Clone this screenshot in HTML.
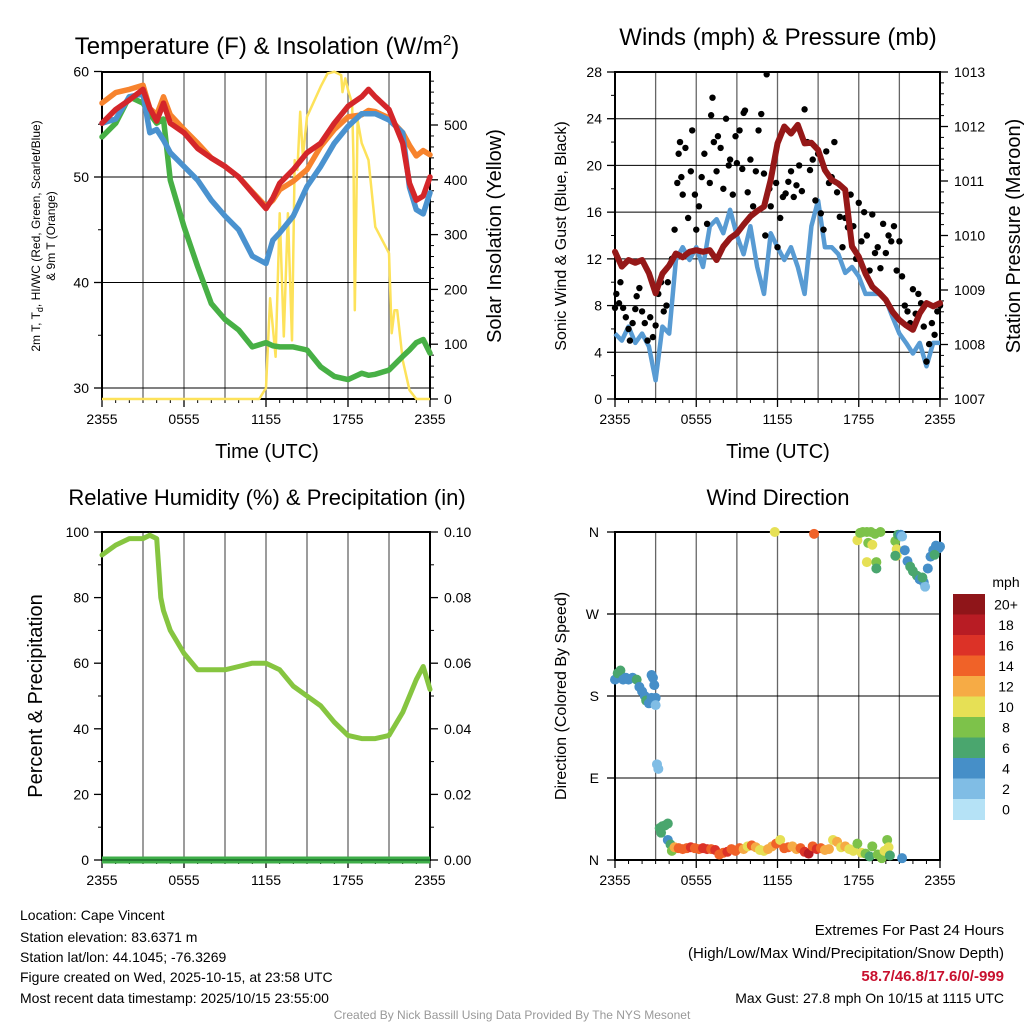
<!DOCTYPE html>
<html><head><meta charset="utf-8"><style>
html,body{margin:0;padding:0;background:#fff;width:1024px;height:1024px;overflow:hidden}
svg{display:block;font-family:"Liberation Sans",sans-serif}
</style></head><body>
<svg id="c" width="1024" height="1024" viewBox="0 0 1024 1024"></svg>
<script>
// ---------- DATA ----------
const tempHours=[0,1,2,3,3.5,4,4.5,5,6,7,8,9,10,11,12,12.5,13,14,15,16,17,18,19,19.5,20,21,22,22.5,23,23.5,24];
const temp2m=[55.1,56.4,57.3,58.3,56.5,55.3,57,55.1,54.2,52.7,51.8,51,50,48.5,47,48,49.4,50.7,52.3,53.2,55.1,56.7,57.6,58.3,57.6,56.4,53.2,49.4,47.8,48.2,50];
const temp9m=[57,58,58.3,58.7,56.5,55.9,57.6,55.9,54.5,53.2,51.8,51,50,48.6,47.2,47.8,48.8,49.6,50.7,52.9,54.5,55.7,55.9,56.3,56.2,55.6,54.2,53,52,52.5,52.1];
const windChill=[55.1,55.5,57.6,57.9,54.2,54.5,53.5,52.3,51,49.7,47.8,46.3,45,42.5,41.8,44,44.7,46.3,49.1,51,53.2,54.8,56,56,56,55.4,54.2,49,46.9,46.5,48.5];
const dewPoint=[53.8,55.1,57.6,57,56,55.1,55.5,49.7,45.3,41.5,38,36.5,35.5,33.9,34.3,34,33.9,33.9,33.6,32,31.1,30.8,31.4,31.2,31.3,31.7,33,33.6,34.3,34.6,33.3];
const solarHours=[0,11.5,12,12.3,12.7,13,13.3,13.6,13.9,14.1,14.3,14.5,14.7,15,16,16.5,17,17.5,17.6,17.8,18,18.3,18.4,18.5,18.7,19,19.5,20,21,21.2,21.4,21.6,22,22.5,23,24];
const solarValues=[0,0,20,184,77,339,114,339,107,436,418,524,442,515,570,594,597,591,560,585,564,540,436,162,509,467,436,314,266,120,162,162,71,16,0,0];
const windSpeed=[5.6,5,6.2,4.8,5.6,4.5,1.6,6.2,5.6,11.9,13,11.9,13,11.3,14.8,15.4,14.2,16.2,14,12.4,14.8,11.3,9,14.2,13,11.9,13,11.3,9,14.8,17,13,13,12.4,10.8,11.3,10.5,9,9,9,8.5,7,5.6,4.8,3.9,4.8,2.8,4.8,4.8];
const pressure=[1009.7,1009.43,1009.55,1009.5,1009.55,1009.31,1008.94,1009.3,1009.45,1009.67,1009.6,1009.7,1009.73,1009.7,1009.73,1009.55,1009.8,1009.95,1010.04,1010.2,1010.35,1010.45,1010.53,1011.02,1011.69,1012.0,1011.87,1012.03,1011.69,1011.7,1011.57,1011.2,1011.02,1010.95,1010.84,1009.8,1009.61,1009.3,1009.06,1008.95,1008.82,1008.6,1008.45,1008.35,1008.27,1008.57,1008.76,1008.7,1008.76];
const gustHours=[0,0.1,0.3,0.4,0.6,0.8,1,1.1,1.3,1.5,1.6,1.8,2,2.2,2.4,2.6,2.8,3,3.2,3.4,3.6,3.8,3.9,4.2,4.4,4.6,4.7,4.8,4.9,5,5.2,5.4,5.6,5.7,5.9,6,6.2,6.4,6.6,6.8,7,7.1,7.2,7.3,7.5,7.6,7.8,8,8.2,8.4,8.5,8.7,8.9,9,9.2,9.4,9.5,9.6,9.8,10,10.2,10.4,10.6,10.8,11,11.1,11.2,11.4,11.5,11.7,11.9,12,12.2,12.4,12.6,12.8,13,13.2,13.4,13.6,13.8,14,14.2,14.4,14.6,14.8,15,15.2,15.4,15.6,15.8,16,16.2,16.4,16.6,16.8,17,17.2,17.4,17.6,17.8,18,18.2,18.4,18.6,18.8,19,19.2,19.4,19.6,19.8,20,20.2,20.4,20.6,20.8,21,21.2,21.4,21.6,21.8,22,22.2,22.4,22.6,22.8,23,23.2,23.4,23.6,23.8,24];
const gustValues=[7.8,9,8.2,10,7.8,7,6,5,6.5,7.7,8.8,9.5,7.5,6.5,5,7,5.3,6.3,9,10,7.5,8,10,12,14.5,18.5,21,22,19,17.5,21.5,15.5,19.5,23,17.5,14.5,16.5,19,21,15,18.5,24.3,25.8,22,19.5,22.5,21.5,18,24,20,20.5,17.5,22.5,20.2,23,19.7,24.5,24.7,17.7,20.5,16.5,19.5,23,24.4,19.3,14,27.8,18,16.5,20,18.5,13,15.5,17.3,17.6,18.6,19.5,17.3,18.3,20,17.8,24.8,22,19.6,20.5,17,21,15.9,14.5,21.2,18.5,19,22,17.7,15.6,13,15.5,14.7,17.5,14.8,12,16.8,13.5,16,14,11,15.8,12.5,13,11.2,15,12.5,14,13.5,14.8,11,13.5,10.5,8,7.5,6.5,9.4,7.3,9,8.2,6.2,3.2,4.7,6.5,5.5,7.5,8];
const rhValues=[93,96,98,98,99,98,80,76,70,63,58,58,58,59,60,60,58,53,50,47,42,38,37,37,38,45,55,59,52];
const rhHours=[0,1,2,3,3.5,4,4.3,4.5,5,6,7,8,9,10,11,12,13,14,15,16,17,18,19,20,21,22,23,23.5,24];
const precipValues=[0,0,0,0,0,0,0,0,0,0,0,0,0,0,0,0,0,0,0,0,0,0,0,0,0];
const dirHoursSouth=[0,0.2,0.4,0.6,0.8,1,1.3,1.6,1.8,2,2.2,2.3,2.5,2.7,2.7,2.8,2.9,3,3,3.1,3.2,3.3,3.5,3.7,3.9,3.4,3.9,4.1,4.2];
const dirDegreesSouth=[198,205,208,198,200,198,200,198,190,185,180,175,172,178,203,200,192,178,170,105,100,35,37,38,40,30,22,17,10];
const dirSpeedsSouth=[4,6,6,4,4,4,4,6,4,4,4,6,4,4,4,4,4,4,3,3,3,6,6,6,6,6,4,6,8];
const dirHoursLow=[4.4,4.7,5,5.3,5.6,5.9,6.2,6.5,6.8,7.1,7.4,7.7,8,8.3,8.6,8.9,9.2,9.5,9.8,10.1,10.4,10.7,11,11.3,11.6,11.9,12.2,12.5,12.8,13.1,13.4,13.7,14,14.3,14.6,14.9,15.2,15.5,15.8,16.1,16.4,16.7,17,17.3,17.6,17.9,18.2,18.5,18.8,19,19.4,19.7,19.9,20.1,20.2,20.3,21.2];
const dirDegreesLow=[14,13,12,13,14,13,12,13,12,12,11,6,8,9,12,10,13,12,15,16,14,11,10,12,15,18,22,13,14,15,12,13,9,7,15,12,13,11,12,22,20,14,15,12,10,18,8,7,4,15,6,2,10,22,14,5,2];
const dirSpeedsLow=[12,14,14,14,16,14,14,16,16,14,16,14,14,16,14,14,14,12,10,14,12,10,10,12,12,14,10,14,14,12,12,14,16,18,14,16,14,12,12,10,12,10,12,10,10,8,10,8,6,8,8,8,10,8,10,6,4];
const dirHoursNorth=[11.8,14.7,17.9,18.1,18.3,18.6,18.9,19.2,19.6,18.6,18.7,19,19.3,19.3,20.7,20.8,20.8,20.7,20.9,21.1,21.2,21.4,21.6,21.8,22,22.3,22.5,22.8,22.9,22.7,23.1,23.3,23.5,23.7,23.9,23.6,24];
const dirDegreesNorth=[360,358,351,359,360,360,360,358,360,327,348,346,327,320,350,341,334,334,357,357,355,340,328,322,317,312,308,305,300,310,320,333,340,345,342,335,344];
const dirSpeedsNorth=[10,14,10,8,8,8,8,8,8,10,8,10,8,6,8,10,10,6,6,4,2,4,4,6,6,6,4,4,2,6,4,4,4,4,4,6,4];
const speedColors=['#b5e2f6','#80bde5','#468fc8','#4aa66e','#7dc24a','#e6e055','#f6ab45','#f06228','#dc3227','#b81c24','#8f1519'];
const speedLabels=['0','2','4','6','8','10','12','14','16','18','20+'];
const tempTicks=[30,40,50,60];
const solarTicks=[0,100,200,300,400,500];
const windTicks=[0,4,8,12,16,20,24,28];
const pressTicks=[1007,1008,1009,1010,1011,1012,1013];
const rhTicks=[0,20,40,60,80,100];
const precipTicks=['0.00','0.02','0.04','0.06','0.08','0.10'];
const dirTicks=['N','E','S','W','N'];
const timeLabels=['2355','0555','1155','1755','2355'];

const dirHours=dirHoursSouth.concat(dirHoursLow,dirHoursNorth);
const dirDegrees=dirDegreesSouth.concat(dirDegreesLow,dirDegreesNorth);
const dirSpeeds=dirSpeedsSouth.concat(dirSpeedsLow,dirSpeedsNorth);

// ---------- HELPERS ----------
const NS='http://www.w3.org/2000/svg';
const svg=document.getElementById('c');
function mk(tag,attrs,parent){const e=document.createElementNS(NS,tag);for(const k in attrs)e.setAttribute(k,attrs[k]);(parent||svg).appendChild(e);return e;}
function txt(s,x,y,size,anchor,parent,extra){const t=mk('text',Object.assign({x:x,y:y,'font-size':size,'text-anchor':anchor||'middle',fill:'#000'},extra||{}),parent);t.textContent=s;return t;}
function line(x1,y1,x2,y2,stroke,w,parent){return mk('line',{x1:x1,y1:y1,x2:x2,y2:y2,stroke:stroke,'stroke-width':w},parent);}
function pathFrom(xs,ys,fx,fy){let d='';for(let i=0;i<xs.length;i++)d+=(i?'L':'M')+fx(xs[i]).toFixed(1)+','+fy(ys[i]).toFixed(1);return d;}

const L={x0:102,x1:430}, R={x0:615,x1:940};
const T={y0:72,y1:399}, B={y0:532,y1:860};
function xL(h){return L.x0+h*(L.x1-L.x0)/24;}
function xR(h){return R.x0+h*(R.x1-R.x0)/24;}
function yT(v){return 388-(v-30)*10.55;}
function yS(v){return 399-v*0.548;}
function yW(v){return 399-v*(327/28);}
function yP(p){return 399-(p-1007)*54.5;}
function yRH(v){return 860-v*3.28;}
function yPr(v){return 860-v*3280;}
function yD(d){return 860-d*(328/360);}

function frame(g,X,Y,fx,hgrid){
  for(let h=3;h<24;h+=3){line(fx(h),Y.y0,fx(h),Y.y1,'#666',1.3,g);}
  hgrid.forEach(y=>line(X.x0,y,X.x1,y,'#000',1,g));
  mk('rect',{x:X.x0,y:Y.y0,width:X.x1-X.x0,height:Y.y1-Y.y0,fill:'none',stroke:'#000','stroke-width':2},g);
  for(let i=0;i<timeLabels.length;i++){const x=fx(i*6);line(x,Y.y1,x,Y.y1+8,'#000',1.3,g);const t=txt(timeLabels[i],x,Y.y1+25,14,'middle',g);}
  for(let h=1;h<24;h++){if(h%6)line(fx(h),Y.y1,fx(h),Y.y1+4,'#000',1,g);}
}

// ---------- PANEL 1 ----------
const g1=mk('g',{});
frame(g1,L,T,xL,tempTicks.map(yT));
tempTicks.forEach(v=>{line(L.x0-8,yT(v),L.x0,yT(v),'#000',1.3,g1);txt(String(v),L.x0-13,yT(v)+5,14,'end',g1);});
[35,45,55].forEach(v=>line(L.x0-4,yT(v),L.x0,yT(v),'#000',1,g1));
solarTicks.forEach(v=>{line(L.x1,yS(v),L.x1+8,yS(v),'#000',1.3,g1);txt(String(v),L.x1+14,yS(v)+5,14,'start',g1);});
for(let v=20;v<=580;v+=20){if(v%100)line(L.x1,yS(v),L.x1+4,yS(v),'#000',1,g1);}
const sol=mk('path',{d:pathFrom(solarHours,solarValues,xL,yS),fill:'none',stroke:'#fde25a','stroke-width':2.5,'stroke-linejoin':'round'},g1);

const tl=[[dewPoint,'#47b045','dewpoint-line'],[temp9m,'#f7832d','temp-9m-line'],[windChill,'#4a92cf','wind-chill-line'],[temp2m,'#d4262a','temp-2m-line']];
tl.forEach(s=>{const p=mk('path',{d:pathFrom(tempHours,s[0],xL,yT),fill:'none',stroke:s[1],'stroke-width':5.5,'stroke-linejoin':'round','stroke-linecap':'round'},g1);});
const t1=txt('',267,54,24,'middle',g1);t1.innerHTML='Temperature (F) &amp; Insolation (W/m<tspan dy="-9" font-size="15">2</tspan><tspan dy="9">)</tspan>';

const xl1=txt('Time (UTC)',267,458,20,'middle',g1);
const yl1=mk('text',{transform:'translate(40,236) rotate(-90)','font-size':12,'text-anchor':'middle'},g1);
yl1.innerHTML='2m T, T<tspan dy="3" font-size="9">d</tspan><tspan dy="-3">, HI/WC (Red, Green, Scarlet/Blue)</tspan>';

txt('& 9m T (Orange)',0,0,12,'middle',g1,{transform:'translate(55,236) rotate(-90)'});
const yr1=txt('Solar Insolation (Yellow)',0,0,20,'middle',g1,{transform:'translate(501,236) rotate(-90)'});


// ---------- PANEL 2 ----------
const g2=mk('g',{});
frame(g2,R,T,xR,windTicks.slice(1,7).map(yW));
windTicks.forEach(v=>{line(R.x0-8,yW(v),R.x0,yW(v),'#000',1.3,g2);txt(String(v),R.x0-13,yW(v)+5,14,'end',g2);});
for(let v=2;v<28;v+=4)line(R.x0-4,yW(v),R.x0,yW(v),'#000',1,g2);
pressTicks.forEach(v=>{line(R.x1,yP(v),R.x1+8,yP(v),'#000',1.3,g2);txt(String(v),R.x1+14,yP(v)+5,14,'start',g2);});
for(let v=1007.2;v<1013;v+=0.2){line(R.x1,yP(v),R.x1+4,yP(v),'#000',1,g2);}
const halfHours=windSpeed.map((_,i)=>i*0.5);
const ws=mk('path',{d:pathFrom(halfHours,windSpeed,xR,yW),fill:'none',stroke:'#589bd3','stroke-width':4.5,'stroke-linejoin':'round'},g2);

for(let i=0;i<gustHours.length;i++){const c=mk('circle',{cx:xR(gustHours[i]),cy:yW(gustValues[i]),r:3.2,fill:'#000'},g2);

}
const pr=mk('path',{d:pathFrom(halfHours,pressure,xR,yP),fill:'none',stroke:'#951818','stroke-width':6,'stroke-linejoin':'round','stroke-linecap':'round'},g2);

const t2=txt('Winds (mph) & Pressure (mb)',778,45,24,'middle',g2);
const xl2=txt('Time (UTC)',778,458,20,'middle',g2);
const yl2=txt('Sonic Wind & Gust (Blue, Black)',0,0,16,'middle',g2,{transform:'translate(566,236) rotate(-90)'});

const yr2=txt('Station Pressure (Maroon)',0,0,20,'middle',g2,{transform:'translate(1020,236) rotate(-90)'});


// ---------- PANEL 3 ----------
const g3=mk('g',{});
frame(g3,L,B,xL,[]);
rhTicks.forEach((v,i)=>{line(L.x0-8,yRH(v),L.x0,yRH(v),'#000',1.3,g3);txt(String(v),L.x0-13,yRH(v)+5,14,'end',g3);
  line(L.x1,yRH(v),L.x1+8,yRH(v),'#000',1.3,g3);txt(precipTicks[i],L.x1+14,yRH(v)+5,14,'start',g3);});
for(let v=10;v<100;v+=20){line(L.x0-4,yRH(v),L.x0,yRH(v),'#000',1,g3);line(L.x1,yRH(v),L.x1+4,yRH(v),'#000',1,g3);}
const prH=precipValues.map((_,i)=>i);
const pp=mk('path',{d:pathFrom(prH,precipValues,xL,yPr),fill:'none',stroke:'#3fae49','stroke-width':7},g3);

line(L.x0,860,L.x1,860,'#1a6e2a',1.5,g3);
const rh=mk('path',{d:pathFrom(rhHours,rhValues,xL,yRH),fill:'none',stroke:'#86c540','stroke-width':5,'stroke-linejoin':'round','stroke-linecap':'round'},g3);

const t3=txt('Relative Humidity (%) & Precipitation (in)',267,505,22,'middle',g3);
const yl3=txt('Percent & Precipitation',0,0,20,'middle',g3,{transform:'translate(42,696) rotate(-90)'});


// ---------- PANEL 4 ----------
const g4=mk('g',{});
frame(g4,R,B,xR,[90,180,270].map(yD));
dirTicks.forEach((s,i)=>{const y=yD(i*90);line(R.x0-8,y,R.x0,y,'#000',1.3,g4);txt(s,R.x0-16,y+5,14,'end',g4);});
for(let i=0;i<dirHours.length;i++){const b=Math.min(10,Math.floor(dirSpeeds[i]/2));
  const c=mk('circle',{cx:xR(dirHours[i]),cy:yD(dirDegrees[i]),r:5,fill:speedColors[b]},g4);
  
  }
const t4=txt('Wind Direction',778,505,22,'middle',g4);
const yl4=txt('Direction (Colored By Speed)',0,0,16,'middle',g4,{transform:'translate(566,696) rotate(-90)'});

const cb=mk('g',{},g4);
const cbTop=594, cbH=20.5;
for(let i=0;i<speedColors.length;i++){const k=speedColors.length-1-i;
  mk('rect',{x:953,y:cbTop+i*cbH,width:32,height:cbH+0.5,fill:speedColors[k]},cb);
  txt(speedLabels[k],1006,cbTop+i*cbH+cbH/2+5,14,'middle',cb);}
txt('mph',1006,587,14,'middle',cb);

// ---------- TEXT INFO ----------
const info=['Location: Cape Vincent','Station elevation: 83.6371 m','Station lat/lon: 44.1045; -76.3269','Figure created on Wed, 2025-10-15, at 23:58 UTC','Most recent data timestamp: 2025/10/15 23:55:00'];
const infoY=[920,942,962,982,1003];
info.forEach((s,i)=>{const t=txt(s,20,infoY[i],14,'start');});
const ext=txt('Extremes For Past 24 Hours',1004,935,15,'end');
const ext2=txt('(High/Low/Max Wind/Precipitation/Snow Depth)',1004,958,15,'end');
const ext3=txt('58.7/46.8/17.6/0/-999',1004,981,15,'end',null,{fill:'#c8102e','font-weight':'bold'});
const ext4=txt('Max Gust: 27.8 mph On 10/15 at 1115 UTC',1004,1003,14,'end');
const cr=txt('Created By Nick Bassill Using Data Provided By The NYS Mesonet',512,1019,12,'middle',null,{fill:'#999'});
</script>
</body></html>
